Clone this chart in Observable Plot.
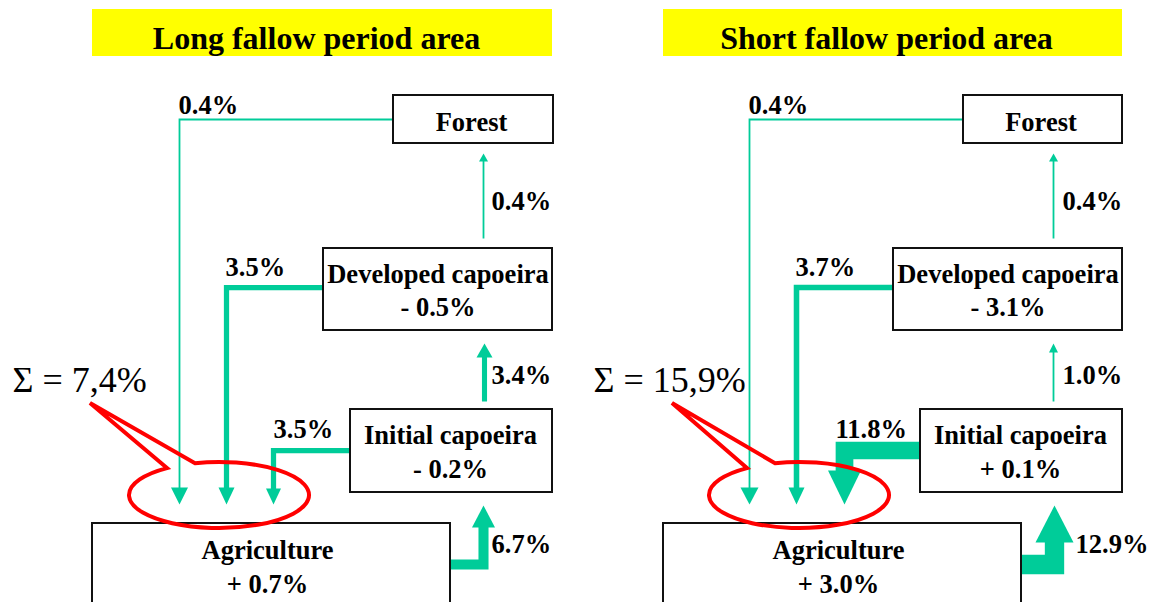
<!DOCTYPE html>
<html><head><meta charset="utf-8">
<script src="https://cdn.jsdelivr.net/npm/d3@7"></script>
<script src="https://cdn.jsdelivr.net/npm/@observablehq/plot@0.6"></script>
<style>html,body{margin:0;padding:0;background:#fff;overflow:hidden}</style>
</head><body><div id="chart"></div>
<script>
// ---------------- DATA ----------------
const panelTitles = ["Long fallow period area", "Short fallow period area"];
const landUses = ["Forest", "Developed capoeira", "Initial capoeira", "Agriculture"];
const changeLong = [null, -0.5, -0.2, 0.7];
const changeShort = [null, -3.1, 0.1, 3.0];
const flowSource = ["Forest", "Developed capoeira", "Developed capoeira", "Initial capoeira", "Initial capoeira", "Agriculture"];
const flowTarget = ["Agriculture", "Forest", "Agriculture", "Developed capoeira", "Agriculture", "Initial capoeira"];
const flowLong = [0.4, 0.4, 3.5, 3.4, 3.5, 6.7];
const flowShort = [0.4, 0.4, 3.7, 1.0, 11.8, 12.9];
const totalToAgriculture = [7.4, 15.9];

// ---------------- LAYOUT (diagram units) ----------------
const W = 1154, H = 602;
const GREEN = "#00cc99", RED = "#ff0000", YELLOW = "#ffff00";
const FONT = "'Liberation Serif','Times New Roman',serif";
const titleBoxes = [[92, 9, 552, 56], [663, 9, 1122, 56]];
const titleCenter = [316, 886];
const titleBaseline = 48;
const nodeBoxes = [
  {"Forest": [393, 95, 553, 143], "Developed capoeira": [323, 248, 552, 330], "Initial capoeira": [350, 409, 552, 492], "Agriculture": [92, 523, 450, 680]},
  {"Forest": [963, 95, 1122, 143], "Developed capoeira": [893, 248, 1122, 330], "Initial capoeira": [920, 409, 1122, 492], "Agriculture": [663, 523, 1021, 680]}
];
const textCenterShift = {"Forest": -2, "Developed capoeira": 0, "Initial capoeira": -1, "Agriculture": -4};
const nameBaseline = {"Forest": 130, "Developed capoeira": 282, "Initial capoeira": 443, "Agriculture": 558};
const changeBaseline = {"Developed capoeira": 315, "Initial capoeira": 477, "Agriculture": 592};
const routes = [
  [[[393,119],[179,119],[179,504]], [[483,238],[483,153]], [[323,287],[226,287],[226,504]], [[484,401],[484,343]], [[350,450],[273,450],[273,504]], [[450,564],[483,564],[483,505]]],
  [[[963,119],[749,119],[749,504]], [[1053,238],[1053,153]], [[893,287],[796,287],[796,504]], [[1053,401],[1053,343]], [[920,450],[844,450],[844,504]], [[1021,564],[1054,564],[1054,505]]]
];
const heads = [
  [[17,17],[9,8],[16,17],[16,14],[15,16],[23,22]],
  [[18,17],[9,8],[16,17],[9,9],[33,34],[38,37]]
];
const labelPos = [
  [[178,113],[491,209],[225,275],[491,383],[273,437],[491,552]],
  [[748,113],[1062,209],[795,275],[1062,383],[835,437],[1075,552]]
];
const sigmaPos = [[12, 391], [593, 391]];
const sigmaSize = 36;
const callouts = [
  {cx: 219, cy: 495, rx: 90, ry: 33, tip: [90, 403], a: 195, b: 167},
  {cx: 799, cy: 495, rx: 90, ry: 33, tip: [672, 403], a: 775, b: 747}
];

// ---------------- BUILD ----------------
const changes = [changeLong, changeShort];
const flowValues = [flowLong, flowShort];
const fmtChange = v => (v < 0 ? "- " : "+ ") + Math.abs(v).toFixed(1) + "%";
const fmtPct = v => v.toFixed(1) + "%";
const widthOf = v => Math.max(1.8, 1.5 * v);

const titleRows = panelTitles.map((t, p) => {
  const [x1, y1, x2, y2] = titleBoxes[p];
  return {title: t, x1, y1, x2, y2, xc: titleCenter[p], y: titleBaseline};
});

const nodeRows = [];
changes.forEach((ch, p) => landUses.forEach((n, i) => {
  const [x1, y1, x2, y2] = nodeBoxes[p][n];
  nodeRows.push({panel: p, name: n, change: ch[i], x1, y1, x2, y2, xc: (x1 + x2) / 2 + textCenterShift[n]});
}));

const flows = [];
flowValues.forEach((vals, p) => vals.forEach((v, i) => {
  flows.push({panel: p, i, id: p + "-" + i, source: flowSource[i], target: flowTarget[i], value: v,
    route: routes[p][i], head: heads[p][i], label: labelPos[p][i]});
}));

const shaftPts = [], headPts = [];
flows.forEach(f => {
  const r = f.route, n = r.length;
  const [tx, ty] = r[n - 1], [px, py] = r[n - 2];
  const len = Math.hypot(tx - px, ty - py), ux = (tx - px) / len, uy = (ty - py) / len;
  const [hw, hh] = f.head;
  r.forEach((pt, k) => {
    if (k === n - 1) shaftPts.push({id: f.id, x: tx - ux * (hh - 1), y: ty - uy * (hh - 1)});
    else shaftPts.push({id: f.id, x: pt[0], y: pt[1]});
  });
  const bx = tx - ux * hh, by = ty - uy * hh, nx = -uy, ny = ux;
  headPts.push({id: f.id, x: bx + nx * hw / 2, y: by + ny * hw / 2});
  headPts.push({id: f.id, x: tx, y: ty});
  headPts.push({id: f.id, x: bx - nx * hw / 2, y: by - ny * hw / 2});
});

const sigmaRows = totalToAgriculture.map((t, p) => ({
  text: "\u03A3 = " + t.toFixed(1).replace(".", ",") + "%", x: sigmaPos[p][0], y: sigmaPos[p][1]
}));

const calloutMark = (index, scales) => {
  const sx = scales.x, sy = scales.y;
  const g = d3.create("svg:g");
  callouts.forEach(c => {
    const ya = c.cy - c.ry * Math.sqrt(1 - ((c.a - c.cx) / c.rx) ** 2);
    const yb = c.cy - c.ry * Math.sqrt(1 - ((c.b - c.cx) / c.rx) ** 2);
    const rx = Math.abs(sx(c.cx + c.rx) - sx(c.cx)), ry = Math.abs(sy(c.cy + c.ry) - sy(c.cy));
    const d = `M${sx(c.a)},${sy(ya)} A${rx},${ry} 0 1 1 ${sx(c.b)},${sy(yb)} L${sx(c.tip[0])},${sy(c.tip[1])} Z`;
    g.append("path").attr("d", d).attr("fill", "none").attr("stroke", RED)
      .attr("stroke-width", 4).attr("stroke-linejoin", "miter").attr("stroke-miterlimit", 10);
  });
  return g.node();
};

const textBase = {fontFamily: FONT, fill: "black", lineAnchor: "bottom"};

const chart = Plot.plot({
  width: W, height: H, margin: 0,
  x: {domain: [0, W], range: [0, W], axis: null},
  y: {domain: [0, H], range: [0, H], axis: null},
  style: {background: "white"},
  marks: [
    Plot.rect(titleRows, {x1: "x1", x2: "x2", y1: "y1", y2: "y2", fill: YELLOW}),
    Plot.text(titleRows, {...textBase, x: "xc", y: "y", text: "title", fontSize: 32, fontWeight: "bold"}),
    ...flows.map(f => Plot.line(shaftPts.filter(d => d.id === f.id), {
      x: "x", y: "y", stroke: GREEN, strokeWidth: widthOf(f.value),
      strokeLinejoin: "miter", strokeLinecap: "butt", strokeMiterlimit: 4
    })),
    Plot.line(headPts, {x: "x", y: "y", z: "id", fill: GREEN, stroke: "none"}),
    Plot.rect(nodeRows, {x1: "x1", x2: "x2", y1: "y1", y2: "y2", fill: "white", stroke: "#111", strokeWidth: 2}),
    Plot.text(nodeRows, {...textBase, x: "xc", y: d => nameBaseline[d.name], text: "name", fontSize: 26.5, fontWeight: "bold"}),
    Plot.text(nodeRows.filter(d => d.change != null), {...textBase, x: "xc", y: d => changeBaseline[d.name], text: d => fmtChange(d.change), fontSize: 26.5, fontWeight: "bold"}),
    Plot.text(flows, {...textBase, x: d => d.label[0], y: d => d.label[1], text: d => fmtPct(d.value), textAnchor: "start", fontSize: 26.5, fontWeight: "bold"}),
    Plot.text(sigmaRows, {...textBase, x: "x", y: "y", text: "text", textAnchor: "start", fontSize: sigmaSize}),
    calloutMark
  ]
});
document.getElementById("chart").appendChild(chart);
</script>
</body></html>
